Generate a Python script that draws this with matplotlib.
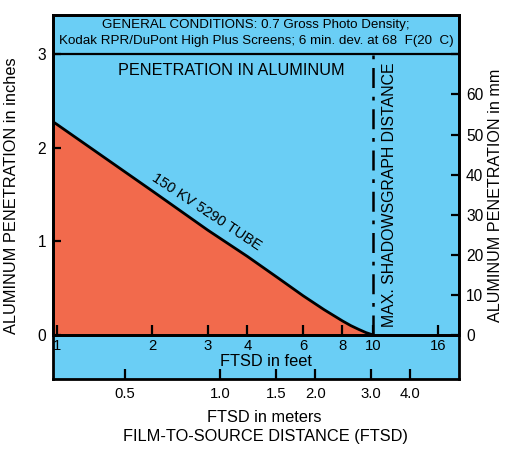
import matplotlib
matplotlib.use("Agg")
import matplotlib.pyplot as plt
from matplotlib.ticker import FixedLocator, NullLocator

plt.rcParams["font.family"] = ["Liberation Sans", "DejaVu Sans"]

BLUE, RED, INK = "#6ACEF5", "#F26A4C", "#000000"

# curve: FTSD (feet) vs penetration (inches)
ftsd_ft = [0.97, 1.0, 2.0, 3.0, 4.0, 5.0, 6.0, 7.0, 8.0, 8.5, 9.0, 9.5, 10.0]
pen_in = [2.28, 2.25, 1.54, 1.12, 0.84, 0.61, 0.42, 0.27, 0.15, 0.10,
          0.06, 0.025, 0.0]

feet_ticks = [1, 2, 3, 4, 6, 8, 10, 16]
meter_ticks = [0.5, 1.0, 1.5, 2.0, 3.0, 4.0]
meter_labels = ["0.5", "1.0", "1.5", "2.0", "3.0", "4.0"]
inch_ticks = [0, 1, 2, 3]
mm_ticks = [0, 10, 20, 30, 40, 50, 60, 70]
mm_labels = ["0", "10", "20", "30", "40", "50", "60", ""]
max_shadow_ft = 10.0

XMIN, XMAX = 0.971, 18.7
YMAX = 3.42          # top of the conditions box, in inches
MM_PER_IN = 70 / 3   # right scale as drawn (not to true scale)

fig = plt.figure(figsize=(5.05, 4.5), dpi=100)
ax = fig.add_axes([0.105, 0.2556, 0.804, 0.711])
ax.set_facecolor(BLUE)
ax.set_xscale("log")
ax.set_xlim(XMIN, XMAX)
ax.set_ylim(0, YMAX)

ax.fill_between(ftsd_ft, pen_in, 0, color=RED, lw=0)
ax.plot(ftsd_ft, pen_in, color=INK, lw=2)
ax.axhline(3, color=INK, lw=1.6)
ax.plot([max_shadow_ft, max_shadow_ft], [0, 3], color=INK, lw=1.8,
        ls=(0, (8, 3.5, 1.5, 3.5)))

for s in ax.spines.values():
    s.set_linewidth(2)

ax.xaxis.set_major_locator(FixedLocator(feet_ticks))
ax.xaxis.set_minor_locator(NullLocator())
ax.set_xticklabels([str(v) for v in feet_ticks])
ax.tick_params(axis="x", direction="in", length=7, width=1.6, pad=3,
               labelsize=10.7)
ax.set_yticks(inch_ticks)
ax.tick_params(axis="y", direction="in", length=6, width=1.6, pad=5,
               labelsize=11.2)
ax.set_ylabel("ALUMINUM PENETRATION in inches", fontsize=11.8)
ax.yaxis.set_label_coords(-0.084, 0.435)

ax2 = ax.twinx()
ax2.set_ylim(0, YMAX * MM_PER_IN)
ax2.set_yticks(mm_ticks)
ax2.set_yticklabels(mm_labels)
ax2.tick_params(axis="y", direction="in", length=6, width=1.6, pad=5,
                labelsize=11.2)
ax2.set_ylabel("ALUMINUM PENETRATION in mm", fontsize=11.6)
ax2.yaxis.set_label_coords(1.071, 0.435)
for s in ax2.spines.values():
    s.set_linewidth(2)

ax.text(0.5, 0.944,
        "GENERAL CONDITIONS: 0.7 Gross Photo Density;\n"
        "Kodak RPR/DuPont High Plus Screens; 6 min. dev. at 68  F(20  C)",
        transform=ax.transAxes, ha="center", va="center", fontsize=9.6,
        linespacing=1.35)
ax.text(0.44, 0.828, "PENETRATION IN ALUMINUM", transform=ax.transAxes,
        ha="center", va="center", fontsize=11.7)
ax.text(2.98, 1.31, "150 KV 5290 TUBE", rotation=-33.5, ha="center",
        va="center", fontsize=10.5)
ax.text(11.3, 1.5, "MAX. SHADOWSGRAPH DISTANCE", rotation=90, ha="center",
        va="center", fontsize=11.4)

# bottom strip: feet label + meter scale
sx = fig.add_axes([0.105, 0.1578, 0.804, 0.0978])
sx.set_facecolor(BLUE)
sx.set_xscale("log")
sx.set_xlim(XMIN, XMAX)
sx.set_ylim(0, 1)
sx.set_yticks([])
for s in sx.spines.values():
    s.set_linewidth(2)
sx.xaxis.set_major_locator(FixedLocator([m * 3.28084 for m in meter_ticks]))
sx.xaxis.set_minor_locator(NullLocator())
sx.set_xticklabels(meter_labels)
sx.tick_params(axis="x", direction="in", length=7, width=1.6, pad=6,
               labelsize=10.7)
sx.text(0.525, 0.40, "FTSD in feet", transform=sx.transAxes, ha="center",
        va="center", fontsize=11.8)

# keep the feet labels of the main axes above the strip
sx.set_zorder(1)
ax.set_zorder(3)
ax2.set_zorder(4)

fig.text(0.523, 0.073, "FTSD in meters", ha="center", va="center",
         fontsize=11.8)
fig.text(0.525, 0.029, "FILM-TO-SOURCE DISTANCE (FTSD)", ha="center",
         va="center", fontsize=11.8)

fig.savefig("out.png", dpi=100)
